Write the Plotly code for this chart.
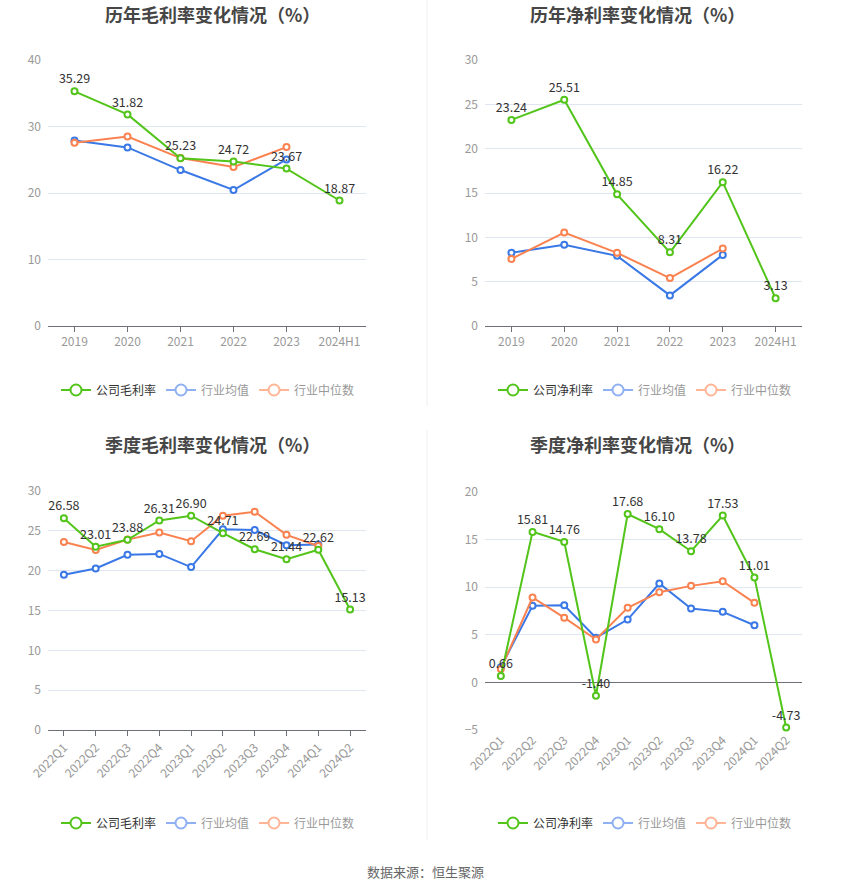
import plotly.graph_objects as go

# categories
years = ["2019", "2020", "2021", "2022", "2023", "2024H1"]
quarters = ["2022Q1", "2022Q2", "2022Q3", "2022Q4", "2023Q1",
            "2023Q2", "2023Q3", "2023Q4", "2024Q1", "2024Q2"]

# yearly gross margin (%)
gross_company = [35.29, 31.82, 25.23, 24.72, 23.67, 18.87]
gross_ind_avg = [27.9, 26.85, 23.45, 20.45, 25.05, None]
gross_ind_med = [27.55, 28.5, 25.25, 23.9, 26.9, None]

# yearly net margin (%)
net_company = [23.24, 25.51, 14.85, 8.31, 16.22, 3.13]
net_ind_avg = [8.25, 9.15, 7.91, 3.45, 8.02, None]
net_ind_med = [7.57, 10.54, 8.25, 5.4, 8.74, None]

# quarterly gross margin (%)
q_gross_company = [26.58, 23.01, 23.88, 26.31, 26.90, 24.71, 22.69, 21.44, 22.62, 15.13]
q_gross_ind_avg = [19.48, 20.28, 22.0, 22.1, 20.45, 25.2, 25.1, 23.2, 23.3, None]
q_gross_ind_med = [23.6, 22.6, 23.9, 24.8, 23.7, 26.9, 27.4, 24.5, 23.1, None]

# quarterly net margin (%)
q_net_company = [0.66, 15.81, 14.76, -1.40, 17.68, 16.10, 13.78, 17.53, 11.01, -4.73]
q_net_ind_avg = [1.6, 8.04, 8.1, 4.7, 6.6, 10.39, 7.76, 7.41, 6.0, None]
q_net_ind_med = [1.42, 8.92, 6.8, 4.5, 7.83, 9.48, 10.14, 10.63, 8.36, None]

titles = ["历年毛利率变化情况（%）", "历年净利率变化情况（%）",
          "季度毛利率变化情况（%）", "季度净利率变化情况（%）"]
company_names = ["公司毛利率", "公司净利率", "公司毛利率", "公司净利率"]

GREEN = "#52c41a"
BLUE = "#3a78e6"
ORANGE = "#fa8250"
W, H = 850, 891
FONT = "Noto Sans CJK SC"

panels = [
    dict(cats=years, series=(gross_company, gross_ind_avg, gross_ind_med),
         px=(48, 366), py=(60, 326), yr=(0, 40), dt=10, angle=0),
    dict(cats=years, series=(net_company, net_ind_avg, net_ind_med),
         px=(485, 802), py=(60, 326), yr=(0, 30), dt=5, angle=0),
    dict(cats=quarters, series=(q_gross_company, q_gross_ind_avg, q_gross_ind_med),
         px=(48, 366), py=(491, 730), yr=(0, 30), dt=5, angle=-45),
    dict(cats=quarters, series=(q_net_company, q_net_ind_avg, q_net_ind_med),
         px=(485, 802), py=(492, 730), yr=(-5, 20), dt=5, angle=-45),
]

fig = go.Figure()
layout = {}
annotations = []

for i, p in enumerate(panels):
    n = i + 1
    xa = "x" if n == 1 else f"x{n}"
    ya = "y" if n == 1 else f"y{n}"
    lg = "legend" if n == 1 else f"legend{n}"
    comp, avg, med = p["series"]

    for vals, col, show_text in ((avg, BLUE, False), (med, ORANGE, False), (comp, GREEN, True)):
        fig.add_trace(go.Scatter(
            x=p["cats"], y=vals, xaxis=xa, yaxis=ya,
            mode="lines+markers+text" if show_text else "lines+markers",
            text=[f"{v:.2f}" for v in vals] if show_text else None,
            textposition="top center",
            textfont=dict(size=12.5, color="#333", family=FONT),
            line=dict(color=col, width=2),
            marker=dict(symbol="circle", size=6, color="white",
                        line=dict(color=col, width=2)),
            showlegend=False, cliponaxis=False, hoverinfo="skip",
        ))

    # legend entries
    for name, col, txt in ((company_names[i], GREEN, "#333"),
                           ("行业均值", "#8fb0f2", "#999"),
                           ("行业中位数", "#ffb596", "#999")):
        fig.add_trace(go.Scatter(
            x=[None], y=[None], xaxis=xa, yaxis=ya, mode="lines+markers",
            name=f"<span style='color:{txt}'>{name}</span>",
            line=dict(color=col, width=2),
            marker=dict(symbol="circle", size=11, color="white",
                        line=dict(color=col, width=2)),
            legend=lg,
        ))

    x0, x1 = p["px"]
    y0, y1 = p["py"]
    bottom_zero = p["yr"][0] < 0
    layout[f"xaxis{'' if n == 1 else n}"] = dict(
        domain=[x0 / W, x1 / W], anchor=ya, type="category",
        range=[-0.5, len(p["cats"]) - 0.5],
        showline=not bottom_zero, linecolor="#6e7079", linewidth=1,
        ticks="" if bottom_zero else "outside", ticklen=5, tickcolor="#6e7079",
        tickangle=p["angle"], showgrid=False, automargin=False,
        tickfont=dict(size=12, color="#999", family=FONT),
        fixedrange=True,
    )
    layout[f"yaxis{'' if n == 1 else n}"] = dict(
        domain=[1 - y1 / H, 1 - y0 / H], anchor=xa,
        range=list(p["yr"]), dtick=p["dt"], tick0=0,
        showline=False, gridcolor="#e0e6f1", gridwidth=1,
        zeroline=bottom_zero, zerolinecolor="#6e7079", zerolinewidth=1,
        tickfont=dict(size=12, color="#999", family=FONT),
        ticklabelstandoff=6, fixedrange=True, automargin=False,
    )
    legend_y = 390 if n <= 2 else 823
    layout[lg] = dict(
        orientation="h", x=(208 if n % 2 == 1 else 645) / W, xanchor="center",
        y=1 - legend_y / H, yanchor="middle",
        font=dict(size=12, family=FONT), bgcolor="rgba(0,0,0,0)",
        itemwidth=30, tracegroupgap=0,
    )
    annotations.append(dict(
        text=f"<b>{titles[i]}</b>", x=(212.5 if n % 2 == 1 else 637.5) / W,
        y=1 - (14 if n <= 2 else 444) / H, xref="paper", yref="paper",
        xanchor="center", yanchor="middle", showarrow=False,
        font=dict(size=18, color="#464646", family=FONT),
    ))

annotations.append(dict(
    text="数据来源：恒生聚源", x=0.5, y=1 - 871 / H, xref="paper", yref="paper",
    xanchor="center", yanchor="middle", showarrow=False,
    font=dict(size=13, color="#666", family=FONT),
))

shapes = [
    dict(type="line", xref="paper", yref="paper", x0=427 / W, x1=427 / W,
         y0=1, y1=1 - 406 / H, line=dict(color="#eeeeee", width=1)),
    dict(type="line", xref="paper", yref="paper", x0=427 / W, x1=427 / W,
         y0=1 - 430 / H, y1=1 - 840 / H, line=dict(color="#eeeeee", width=1)),
]

fig.update_layout(
    width=W, height=H, margin=dict(l=0, r=0, t=0, b=0, autoexpand=False),
    paper_bgcolor="white", plot_bgcolor="white",
    font=dict(family=FONT), annotations=annotations, shapes=shapes,
    **layout,
)

fig.write_html("out.html", config={"displayModeBar": False},
               post_script="document.body.style.margin='0';")
